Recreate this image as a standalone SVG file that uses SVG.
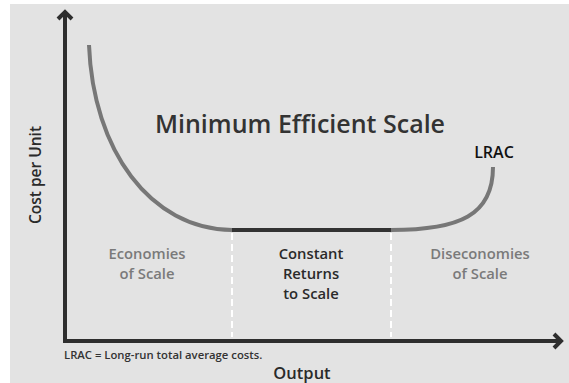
<svg xmlns="http://www.w3.org/2000/svg" width="569" height="383" viewBox="0 0 569 383">
<style>
text{font-family:"Open Sans","Noto Sans","Liberation Sans",sans-serif;font-weight:600}
.axis{stroke:#2e2e2e;stroke-width:4;fill:none}
.curve{stroke:#777;stroke-width:4;fill:none}
.flat{stroke:#333;stroke-width:4;fill:none}
.dash{stroke:#fff;stroke-width:2;stroke-dasharray:7 4;fill:none}
.grey{fill:#7a7a7a;font-size:14.8px}
.dark{fill:#2a2a2a;font-size:14.8px}
</style>
<rect width="569" height="383" fill="#ffffff"/>
<rect x="10" y="4" width="559" height="379" fill="#e3e3e3"/>
<g id="connectors">
<path class="axis" d="M65,12 V341 H561"/>
<path class="axis" d="M58,19 L65,12 L72,19" stroke-width="2.5"/>
<path class="axis" d="M554,334 L561,341 L554,348" stroke-width="2.5"/>
<path class="dash" d="M232,233 V337"/>
<path class="dash" d="M391,233 V337"/>
<path class="curve" d="M89,45 C93,150 150,229 232,230"/>
<path class="curve" d="M391,230 C460,230 493,215 493,167"/>
<path class="flat" d="M232,230 H391"/>
</g>
<g id="title"><text x="300" y="133" text-anchor="middle" font-size="25" fill="#333">Minimum Efficient Scale</text></g>
<g id="lrac"><text x="494" y="158" text-anchor="middle" font-size="16" fill="#111" font-weight="700">LRAC</text></g>
<g id="ylabel"><text transform="translate(41,175) rotate(-90)" text-anchor="middle" font-size="15.5" fill="#2a2a2a">Cost per Unit</text></g>
<g id="economies"><text class="grey" text-anchor="middle"><tspan x="147" y="259">Economies</tspan><tspan x="147" y="279">of Scale</tspan></text></g>
<g id="constant"><text class="dark" text-anchor="middle"><tspan x="311" y="259">Constant</tspan><tspan x="311" y="279">Returns</tspan><tspan x="311" y="299">to Scale</tspan></text></g>
<g id="diseconomies"><text class="grey" text-anchor="middle"><tspan x="480" y="259">Diseconomies</tspan><tspan x="480" y="279">of Scale</tspan></text></g>
<g id="note"><text x="64" y="359" font-size="11.3" font-weight="400" fill="#333">LRAC = Long-run total average costs.</text></g>
<g id="xlabel"><text x="302" y="379" text-anchor="middle" font-size="16.5" fill="#2a2a2a">Output</text></g>
</svg>
